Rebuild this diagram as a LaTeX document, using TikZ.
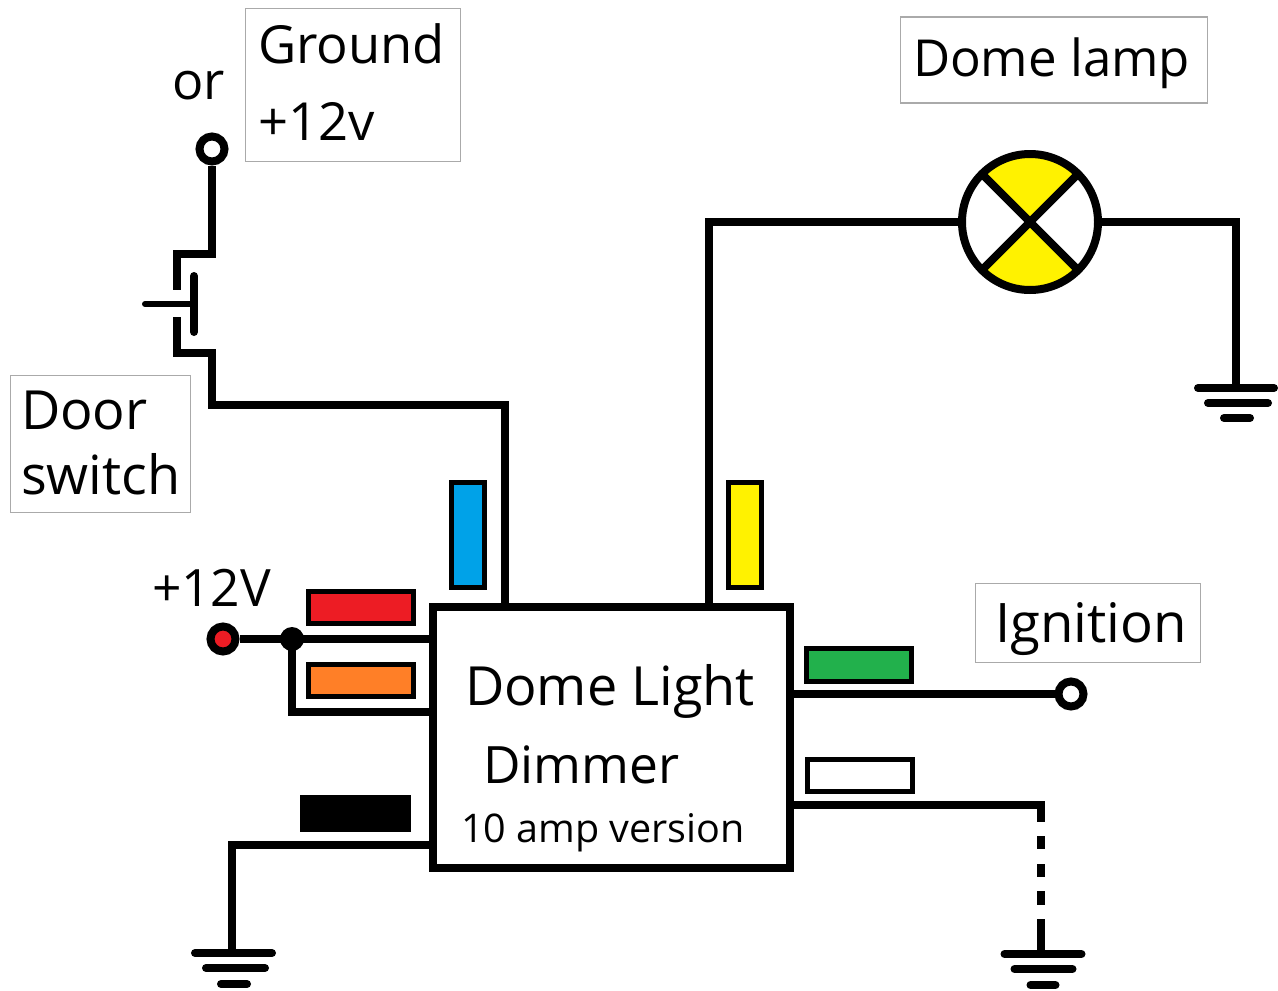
\documentclass[tikz,border=0pt]{standalone}
\usepackage{fontspec}
\setmainfont{Open Sans}
\newcommand\fsz[2]{\fontsize{#1}{#2}\selectfont}
\definecolor{lblgray}{RGB}{170,170,170}
\definecolor{pinred}{RGB}{237,28,36}
\definecolor{pinorange}{RGB}{255,127,39}
\definecolor{pinblue}{RGB}{0,162,232}
\definecolor{pinyellow}{RGB}{255,242,0}
\definecolor{pingreen}{RGB}{34,177,76}
\tikzset{
  wire/.style={line width=8pt},
  gndbar/.style={line width=8pt,line cap=round},
  term/.style={circle,draw=black,line width=8pt,minimum size=25pt,inner sep=0pt,fill=white},
  pin/.style={rectangle,draw=black,line width=5pt,inner sep=0pt},
  lbl/.style={rectangle,draw=lblgray,line width=1.2pt,inner sep=0pt},
  txt/.style={inner sep=0pt,outer sep=0pt,text=black},
}
\begin{document}
\begin{tikzpicture}[x=1pt,y=-1pt]
\useasboundingbox (0,0) rectangle (1278,991);
% label frames
\node[lbl,minimum width=215pt,minimum height=153pt] (groundbox) at (353,85) {};
\node[lbl,minimum width=307pt,minimum height=86pt] (lampbox) at (1054,60) {};
\node[lbl,minimum width=180pt,minimum height=137pt] (doorbox) at (100.5,444) {};
\node[lbl,minimum width=225pt,minimum height=79pt] (ignbox) at (1088,623) {};
% label texts
\node[txt,anchor=base west,align=left,font=\fsz{52.5}{77}] (groundtxt) at (258,140) {Ground\\+12v};
\node[txt,anchor=base west,font=\fsz{51}{60}] (lamptxt) at (913,76) {Dome lamp};
\node[txt,anchor=base west,align=left,font=\fsz{54}{65}] (doortxt) at (21,494) {Door\\switch};
\node[txt,anchor=base west,font=\fsz{54.5}{60}] (igntxt) at (995,642) {Ignition};
\node[txt,anchor=base west,font=\fsz{52}{60}] (ortxt) at (172,99) {or};
\node[txt,anchor=base west,font=\fsz{51.5}{60}] (v12txt) at (152,606) {+12V};
% dimmer
\node[rectangle,draw=black,line width=8pt,minimum width=357.5pt,minimum height=261.5pt,inner sep=0pt,outer sep=0pt] (dimmer) at (611.25,737.25) {};
\node[txt,anchor=base west,font=\fsz{54}{60}] (dim1) at (465,705) {Dome Light};
\node[txt,anchor=base west,font=\fsz{51.5}{60}] (dim2) at (483,783) {Dimmer};
\node[txt,anchor=base west,font=\fsz{39.5}{46}] (dim3) at (461,842) {10 amp version};
% pins
\node[pin,fill=pinred,minimum width=105pt,minimum height=32pt] (pred) at (361,607.5) {};
\node[pin,fill=pinorange,minimum width=105pt,minimum height=32pt] (porange) at (361,680.5) {};
\node[pin,fill=pinblue,minimum width=33pt,minimum height=105pt] (pblue) at (468,535) {};
\node[pin,fill=pinyellow,minimum width=33pt,minimum height=105pt] (pyellow) at (745,535) {};
\node[pin,fill=pingreen,minimum width=105pt,minimum height=33pt] (pgreen) at (859,665) {};
\node[pin,fill=white,minimum width=105pt,minimum height=32pt] (pwhite) at (860,775.5) {};
\node[pin,fill=black,minimum width=106pt,minimum height=32pt] (pblack) at (355.5,813.5) {};
% connection points
\coordinate (dtopL) at (505,606.5);
\coordinate (dtopR) at (709,606.5);
\coordinate (dleft1) at (432.5,639);
\coordinate (dleft2) at (432.5,712);
\coordinate (dleft3) at (432.5,845);
\coordinate (dright1) at (790,694);
\coordinate (dright2) at (790,805);
% door switch
\node[term] (tdoor) at (212,149) {};
\coordinate (swA) at (177,290);
\coordinate (swB) at (177,317);
\coordinate (plTop) at (194,276);
\coordinate (plBot) at (194,332);
\coordinate (plEnd) at (145,304);
\coordinate (plMid) at (194,304);
\draw[wire] (tdoor.south) |- (177,254) -- (swA);
\draw[wire] (swB) -- (177,353) -| (212,405) -| (dtopL);
\draw[line width=8pt,line cap=round] (plTop) -- (plBot);
\draw[line width=6pt,line cap=round] (plEnd) -- (plMid);
% lamp
\begin{scope}
\clip (1030,222) circle (68);
\fill[pinyellow] (1030,222) -- (960,152) -- (1100,152) -- cycle;
\fill[pinyellow] (1030,222) -- (960,292) -- (1100,292) -- cycle;
\end{scope}
\node[circle,draw=black,line width=8pt,minimum size=136pt,inner sep=0pt] (lamp) at (1030,222) {};
\draw[wire] (lamp.center) ++(-47,-47) coordinate (xa) -- ++(94,94);
\draw[wire] (lamp.center) ++(47,-47) coordinate (xb) -- ++(-94,94);
\draw[wire] (lamp.west) -| (dtopR);
\coordinate (gndR) at (1236,388);
\draw[wire] (lamp.east) -| (gndR);
\draw[gndbar] (1198,388) -- (1274,388);
\draw[gndbar] (1208,403) -- (1268,403);
\draw[gndbar] (1224,418) -- (1250,418);
% +12V
\node[term,fill=pinred] (tplus) at (223,639) {};
\node[circle,fill=black,minimum size=24pt,inner sep=0pt] (junc) at (292,639) {};
\draw[wire] (tplus.east) -- (junc.center) -- (dleft1);
\draw[wire] (junc.center) |- (dleft2);
% ignition
\node[term] (tign) at (1071,694) {};
\draw[wire] (dright1) -- (tign.west);
% ground lower left
\coordinate (gndL) at (232,953);
\draw[wire] (dleft3) -| (gndL);
\draw[gndbar] (195,953) -- (272,953);
\draw[gndbar] (206,968) -- (265,968);
\draw[gndbar] (221,984) -- (247,984);
% dashed ground lower right
\coordinate (gndD) at (1041,954);
\draw[wire,dash pattern=on 268pt off 14pt on 13pt off 15pt on 13pt off 14pt on 14pt off 14pt on 40pt off 40pt] (dright2) -| (gndD);
\draw[gndbar] (1004.5,954) -- (1081.5,954);
\draw[gndbar] (1014.5,969) -- (1072.5,969);
\draw[gndbar] (1030.5,985) -- (1055.5,985);
\end{tikzpicture}
\end{document}
